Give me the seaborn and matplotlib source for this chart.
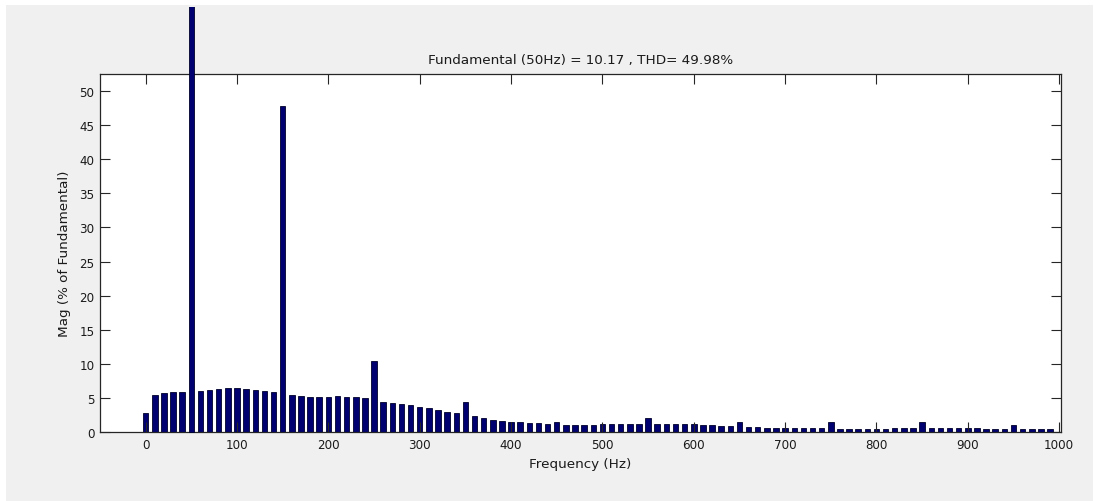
import numpy as np
import pandas as pd
import matplotlib
matplotlib.use("Agg")
import matplotlib.pyplot as plt
import seaborn as sns
from matplotlib.patches import Rectangle
from matplotlib.transforms import Bbox, TransformedBbox

# ---- data ----
freqs = list(range(0, 1000, 10))
mags = [
    2.8, 5.5, 5.7, 5.85, 5.85, 100.0, 6.0, 6.15, 6.35, 6.5,          # 0-90
    6.5, 6.35, 6.2, 6.0, 5.85, 47.8, 5.5, 5.3, 5.15, 5.15,           # 100-190
    5.15, 5.3, 5.15, 5.15, 4.95, 10.4, 4.45, 4.3, 4.1, 3.95,         # 200-290
    3.75, 3.5, 3.2, 3.0, 2.85, 4.5, 2.35, 2.15, 1.85, 1.65,          # 300-390
    1.5, 1.45, 1.35, 1.3, 1.25, 1.45, 1.0, 1.0, 1.0, 1.0,            # 400-490
    1.15, 1.15, 1.15, 1.15, 1.15, 2.05, 1.15, 1.15, 1.15, 1.15,      # 500-590
    1.15, 1.1, 1.1, 0.95, 0.95, 1.5, 0.75, 0.75, 0.7, 0.7,           # 600-690
    0.7, 0.65, 0.6, 0.6, 0.6, 1.5, 0.55, 0.55, 0.55, 0.55,           # 700-790
    0.55, 0.55, 0.6, 0.7, 0.7, 1.5, 0.65, 0.6, 0.6, 0.6,             # 800-890
    0.65, 0.6, 0.55, 0.55, 0.55, 1.0, 0.55, 0.55, 0.55, 0.55,        # 900-990
]
x_ticks = list(range(0, 1001, 100))
y_ticks = list(range(0, 51, 5))
title_text = "Fundamental (50Hz) = 10.17 , THD= 49.98%"
x_label = "Frequency (Hz)"
y_label = "Mag (% of Fundamental)"

df = pd.DataFrame({"freq": freqs, "mag": mags})

plt.rcParams["font.family"] = ["DejaVu Sans"]
FS = 8.6     # tick labels
LFS = 9.7    # title and axis labels
plt.rcParams["font.size"] = FS
text_color = "#1a1a1a"

W, H = 1094, 502
fig = plt.figure(figsize=(W / 100, H / 100), dpi=100, facecolor="white")
# grey window background (figure area)
fig.patches.append(Rectangle((6 / W, 0), (1093 - 6) / W, 1 - 6 / H,
                             transform=fig.transFigure, facecolor="#f0f0f0",
                             edgecolor="none", zorder=-10))

ax = fig.add_axes([100 / W, (H - 433.3) / H, (1061 - 100) / W, (433.3 - 75) / H])
ax.set_facecolor("white")

sns.barplot(data=df, x="freq", y="mag", native_scale=True, orient="v",
            width=0.6, color="#000070", edgecolor="#00002a", linewidth=0.6,
            saturation=1, errorbar=None, ax=ax)

ax.set_xlim(-50, 1002)
ax.set_ylim(0, 52.45)
ax.set_xticks(x_ticks)
ax.set_xticklabels([str(v) for v in x_ticks])
ax.set_yticks(y_ticks)
ax.set_yticklabels([str(v) for v in y_ticks])

ax.tick_params(direction="in", length=6.9, width=0.8, top=True, right=True,
               colors="#262626", labelcolor=text_color, labelsize=FS, pad=4)
for s in ax.spines.values():
    s.set_color("#262626")
    s.set_linewidth(0.9)
    s.set_visible(True)

ax.set_title(title_text, fontsize=LFS, color=text_color, pad=8)
ax.set_xlabel(x_label, fontsize=LFS, color=text_color)
ax.set_ylabel(y_label, fontsize=LFS, color=text_color)
ax.xaxis.set_label_coords(0.5, -0.068)
ax.yaxis.set_label_coords(-0.03, 0.5)

# let the fundamental bar extend beyond the axes, clipped at the window top
clip = TransformedBbox(Bbox([[0, 0], [1, 1 - 8 / H]]), fig.transFigure)
for p in ax.patches:
    p.set_clip_box(clip)
    if p.get_height() > 52.45:
        p.set_zorder(3)

fig.savefig("out.png", dpi=100, facecolor=fig.get_facecolor())
